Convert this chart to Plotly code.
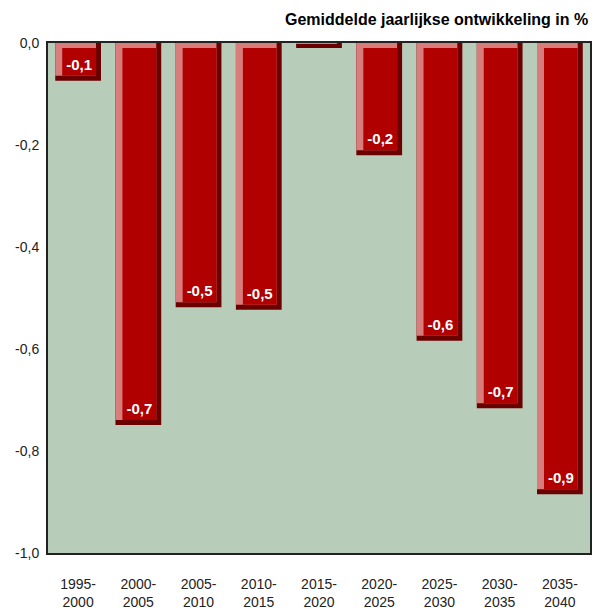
import plotly.graph_objects as go

categories = ["1995-<br>2000", "2000-<br>2005", "2005-<br>2010", "2010-<br>2015", "2015-<br>2020",
              "2020-<br>2025", "2025-<br>2030", "2030-<br>2035", "2035-<br>2040"]
values = [-0.074, -0.749, -0.518, -0.523, -0.01, -0.22, -0.584, -0.716, -0.885]
labels = ["-0,1", "-0,7", "-0,5", "-0,5", "", "-0,2", "-0,6", "-0,7", "-0,9"]
ytick_vals = [0, -0.2, -0.4, -0.6, -0.8, -1.0]
ytick_text = ["0,0", "-0,2", "-0,4", "-0,6", "-0,8", "-1,0"]

FRONT = "#B00000"
LIGHT = "#D97C7C"
DARK = "#6A0000"
BG = "#B8CDB9"

idx = list(range(len(categories)))
BOTTOM_BEVEL = 0.0098
TOP_BEVEL = 0.0098

pink_len = [min(v + BOTTOM_BEVEL, 0) for v in values]
front_len = [min(v + BOTTOM_BEVEL + TOP_BEVEL, 0) for v in values]

fig = go.Figure()
fig.add_trace(go.Bar(x=idx, y=values, base=0, width=0.76, offset=-0.38,
                     marker=dict(color=DARK, line=dict(width=0)), hoverinfo="skip"))
fig.add_trace(go.Bar(x=idx, y=pink_len, base=0, width=0.677, offset=-0.38,
                     marker=dict(color=LIGHT, line=dict(width=0)), hoverinfo="skip"))
fig.add_trace(go.Bar(x=idx, y=front_len, base=-TOP_BEVEL, width=0.561, offset=-0.264,
                     marker=dict(color=FRONT, line=dict(width=0)), hoverinfo="skip",
                     text=labels, textposition="inside", insidetextanchor="end",
                     textangle=0, constraintext="none",
                     textfont=dict(family="Arial, Liberation Sans", size=15, color="white", weight="bold")))

fig.update_layout(
    width=598, height=613,
    margin=dict(l=48, r=8, t=43, b=60),
    paper_bgcolor="white", plot_bgcolor=BG,
    barmode="overlay", showlegend=False,
    font=dict(family="Arial, Liberation Sans", color="#222"),
    xaxis=dict(range=[-0.5, 8.5], tickvals=idx, ticktext=categories, automargin=False,
               showgrid=False, zeroline=False, showline=True, linecolor="#222", linewidth=2,
               mirror=True, ticks="outside", ticklen=17, tickcolor="rgba(0,0,0,0)",
               tickfont=dict(size=14, color="#222")),
    yaxis=dict(range=[-1.0, 0], tickvals=ytick_vals, ticktext=ytick_text, automargin=False,
               showgrid=False, zeroline=False, showline=True, linecolor="#222", linewidth=2,
               mirror=True, ticks="outside", ticklen=4, tickcolor="rgba(0,0,0,0)",
               tickfont=dict(size=14, color="#222")),
    annotations=[dict(text="<b>Gemiddelde jaarlijkse ontwikkeling in %</b>",
                      xref="paper", yref="paper", x=1, y=1, xanchor="right", yanchor="bottom",
                      yshift=13, showarrow=False,
                      font=dict(family="Arial, Liberation Sans", size=16, color="black"))],
)

fig.write_html("out.html", config={"displayModeBar": False},
               post_script="document.body.style.margin='0';document.body.style.overflow='hidden';")
